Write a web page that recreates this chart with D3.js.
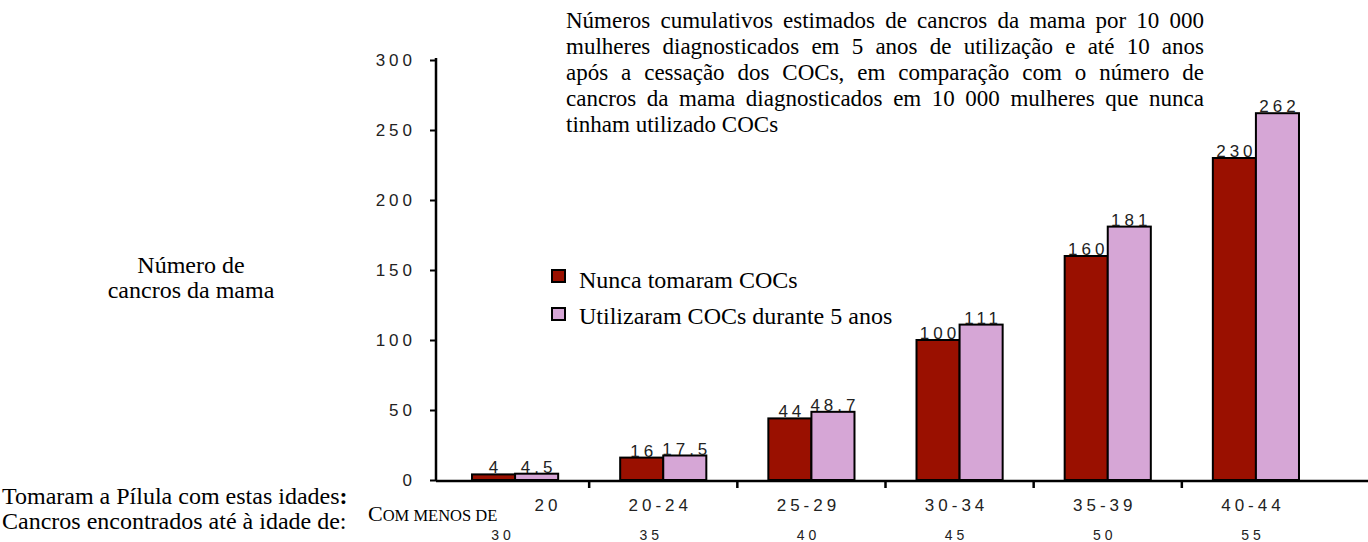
<!DOCTYPE html>
<meta charset="utf-8">
<head>
    <script src="https://d3js.org/d3.v7.min.js"></script>
    <style>
      body { margin: 0; background: #fff; }
      .serif { font-family: "Liberation Serif", "Times New Roman", serif; fill: #000; }
      .num { font-family: "Liberation Sans", Arial, sans-serif; font-size: 17px; letter-spacing: 4px; fill: #222; }
    </style>
</head>
<html lang="pt">
    <body>
        <div id="chart"></div>
    </body>
</html>
<script>

    // data
    const groups = ["<20", "20-24", "25-29", "30-34", "35-39", "40-44"]
    const tickLabels = ["20", "20-24", "25-29", "30-34", "35-39", "40-44"]
    const ageLimits = ["30", "35", "40", "45", "50", "55"]
    const series = ["Nunca tomaram COCs", "Utilizaram COCs durante 5 anos"]
    const neverUsed = [4, 16, 44, 100, 160, 230]
    const usedFiveYears = [4.5, 17.5, 48.7, 111, 181, 262]
    const valueLabels = [["4", "16", "44", "100", "160", "230"],
                         ["4.5", "17.5", "48.7", "111", "181", "262"]]
    const yTicks = [0, 50, 100, 150, 200, 250, 300]
    const colors = ["#9a1000", "#d6a6d6"]

    const titleLines = [
      "Números cumulativos estimados de cancros da mama por 10 000",
      "mulheres diagnosticados em 5 anos de utilização e até 10 anos",
      "após a cessação dos COCs, em comparação com o número de",
      "cancros da mama diagnosticados em 10 000 mulheres que nunca",
      "tinham utilizado COCs"
    ]

    const W = 1368, H = 542
    const serifSize = "24px"
    const svg = d3.select("#chart").append("svg")
      .attr("width", W).attr("height", H)

    // scales
    const y = d3.scaleLinear().domain([0, 300]).range([480, 60])
    const x = d3.scaleBand().domain(groups).range([441, 1330]).paddingInner(0)
    const xSub = d3.scaleBand().domain(series).range([0, x.bandwidth()]).paddingOuter(0.72)

    const axisX = 436

    // bars
    const rows = groups.map((g, i) => ({g, vals: [neverUsed[i], usedFiveYears[i]], i}))
    const gBars = svg.append("g")
    rows.forEach(r => {
      r.vals.forEach((v, s) => {
        gBars.append("rect")
          .attr("x", x(r.g) + xSub(series[s]))
          .attr("y", y(v))
          .attr("width", xSub.bandwidth())
          .attr("height", y(0) - y(v))
          .attr("fill", colors[s])
          .attr("stroke", "#000")
          .attr("stroke-width", 2)
        gBars.append("text")
          .attr("class", "num")
          .attr("x", x(r.g) + xSub(series[s]) + xSub.bandwidth() / 2 + 2)
          .attr("y", y(v) - 1)
          .attr("text-anchor", "middle")
          .text(valueLabels[s][r.i])
      })
    })

    // y axis
    const yAxis = svg.append("g")
      .attr("transform", `translate(${axisX},0)`)
      .call(d3.axisLeft(y).tickValues(yTicks).tickSize(6).tickPadding(14).tickFormat(d3.format("d")))
    yAxis.select(".domain").attr("stroke-width", 2.5).attr("d", `M0,58V481`)
    yAxis.selectAll(".tick line").attr("stroke-width", 2)
    yAxis.selectAll(".tick text").attr("class", "num").attr("font-size", null).attr("font-family", null)

    // x axis
    svg.append("line")
      .attr("x1", axisX).attr("x2", W).attr("y1", 481).attr("y2", 481)
      .attr("stroke", "#000").attr("stroke-width", 2.5)
    svg.selectAll(".xtick")
      .data(groups.slice(1))
      .join("line")
      .attr("x1", d => x(d)).attr("x2", d => x(d))
      .attr("y1", 481).attr("y2", 488)
      .attr("stroke", "#000").attr("stroke-width", 2.5)

    svg.selectAll(".xlab")
      .data(groups)
      .join("text")
      .attr("class", "num")
      .attr("x", (d, i) => x(d) + x.bandwidth() / 2 + (i === 0 ? 33 : -3))
      .attr("y", 511)
      .attr("text-anchor", "middle")
      .text((d, i) => tickLabels[i])

    svg.selectAll(".xlab2")
      .data(groups)
      .join("text")
      .attr("class", "num")
      .style("font-size", "14px")
      .attr("x", (d, i) => x(d) + x.bandwidth() / 2 + (i < 2 ? -12 : -3))
      .attr("y", 540)
      .attr("text-anchor", "middle")
      .text((d, i) => ageLimits[i])

    // "Com menos de" in small caps
    const smc = svg.append("text").attr("class", "serif").attr("x", 368).attr("y", 521)
    smc.append("tspan").attr("font-size", "22px").text("C")
    smc.append("tspan").attr("font-size", "16.5px").text("OM MENOS DE")

    // legend
    series.forEach((s, i) => {
      svg.append("rect")
        .attr("x", 552).attr("y", 270 + i * 38)
        .attr("width", 13).attr("height", 12)
        .attr("fill", colors[i]).attr("stroke", "#000").attr("stroke-width", 2)
      svg.append("text").attr("class", "serif")
        .attr("font-size", serifSize)
        .attr("x", 579).attr("y", 288 + i * 36)
        .text(s)
    })

    // y label
    svg.append("text").attr("class", "serif").attr("font-size", serifSize)
      .attr("x", 191).attr("y", 273).attr("text-anchor", "middle").text("Número de")
    svg.append("text").attr("class", "serif").attr("font-size", serifSize)
      .attr("x", 191).attr("y", 298).attr("text-anchor", "middle").text("cancros da mama")

    // bottom-left captions
    const c1 = svg.append("text").attr("class", "serif").attr("font-size", serifSize)
      .attr("x", 2).attr("y", 504)
    c1.append("tspan").text("Tomaram a Pílula com estas idades")
    c1.append("tspan").attr("font-weight", "bold").text(":")
    svg.append("text").attr("class", "serif").attr("font-size", serifSize)
      .attr("x", 2).attr("y", 529).text("Cancros encontrados até à idade de:")

    // justified title
    const tLeft = 566, tRight = 1204
    titleLines.forEach((line, li) => {
      const t = svg.append("text").attr("class", "serif").attr("font-size", "23px")
        .attr("y", 28 + li * 26)
      const words = line.split(" ")
      if (li === titleLines.length - 1) {
        t.attr("x", tLeft).text(line)
        return
      }
      const spans = words.map(w => t.append("tspan").text(w))
      const widths = spans.map(s => s.node().getComputedTextLength())
      const gap = (tRight - tLeft - d3.sum(widths)) / (words.length - 1)
      let cx = tLeft
      spans.forEach((s, k) => {
        s.attr("x", cx)
        cx += widths[k] + gap
      })
    })

</script>
